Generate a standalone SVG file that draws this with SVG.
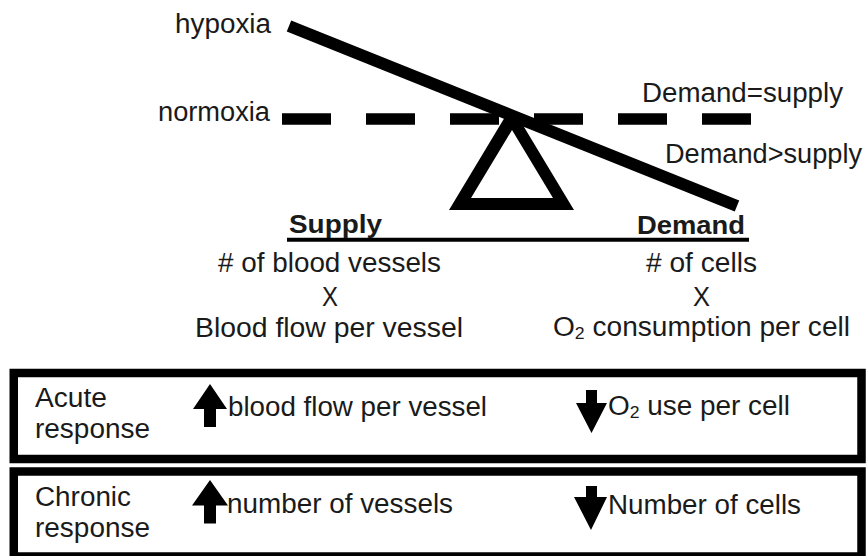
<svg xmlns="http://www.w3.org/2000/svg" width="868" height="556" viewBox="0 0 868 556">
<style>
text{font-family:"Liberation Sans",Arial,sans-serif;font-size:27px;fill:#1a1a1a;}
.b{font-weight:bold;font-size:26px;}
.sub{font-size:17px;}
.box{fill:#fff;stroke:#000;stroke-width:8.5;}
.ink{fill:#000;}
</style>
<rect width="868" height="556" fill="#fff"/>
<g id="balance">
  <line id="normoxia-line" x1="282" y1="119" x2="752" y2="119" stroke="#000" stroke-width="11.5" stroke-dasharray="49 35"/>
  <path id="fulcrum" class="ink" fill-rule="evenodd" d="M449,210 L574,210 L515,112 L508,112 Z M471,198 L553,198 L512,130 Z"/>
  <line id="beam" x1="289" y1="26" x2="737" y2="206" stroke="#000" stroke-width="12"/>
</g>
<g id="level-labels">
  <text x="175" y="33" textLength="96" lengthAdjust="spacingAndGlyphs">hypoxia</text>
  <text x="158" y="121" textLength="112" lengthAdjust="spacingAndGlyphs">normoxia</text>
  <text x="642" y="102" textLength="201" lengthAdjust="spacingAndGlyphs">Demand=supply</text>
  <text x="665" y="163" textLength="197" lengthAdjust="spacingAndGlyphs">Demand&gt;supply</text>
</g>
<g id="base-line">
  <line x1="287" y1="239.7" x2="749" y2="239.7" stroke="#000" stroke-width="4"/>
</g>
<g id="supply">
  <text class="b" x="289" y="233" textLength="93" lengthAdjust="spacingAndGlyphs">Supply</text>
  <text x="218" y="272" textLength="223" lengthAdjust="spacingAndGlyphs"># of blood vessels</text>
  <text x="322" y="306" textLength="16" lengthAdjust="spacingAndGlyphs">X</text>
  <text x="195" y="337" textLength="268" lengthAdjust="spacingAndGlyphs">Blood flow per vessel</text>
</g>
<g id="demand">
  <text class="b" x="637" y="234" textLength="108" lengthAdjust="spacingAndGlyphs">Demand</text>
  <text x="646" y="272" textLength="111" lengthAdjust="spacingAndGlyphs"># of cells</text>
  <text x="693" y="306" textLength="17" lengthAdjust="spacingAndGlyphs">X</text>
  <text x="553" y="336" textLength="297" lengthAdjust="spacingAndGlyphs">O<tspan class="sub" dy="3">2</tspan><tspan dy="-3"> consumption per cell</tspan></text>
</g>
<g id="acute">
  <rect class="box" x="13.75" y="373" width="847.75" height="86"/>
  <text x="35" y="407" textLength="72" lengthAdjust="spacingAndGlyphs">Acute</text>
  <text x="35" y="438" textLength="115" lengthAdjust="spacingAndGlyphs">response</text>
  <path class="ink" d="M210,384 L227,409 L216,409 L216,427 L204,427 L204,409 L193,409 Z"/>
  <text x="228" y="416" textLength="259" lengthAdjust="spacingAndGlyphs">blood flow per vessel</text>
  <path class="ink" d="M586,390 L597,390 L597,403 L607,403 L591.5,433 L576,403 L586,403 Z"/>
  <text x="608" y="415" textLength="182" lengthAdjust="spacingAndGlyphs">O<tspan class="sub" dy="3">2</tspan><tspan dy="-3"> use per cell</tspan></text>
</g>
<g id="chronic">
  <rect class="box" x="13.75" y="471.5" width="847.75" height="85"/>
  <text x="35" y="506" textLength="96" lengthAdjust="spacingAndGlyphs">Chronic</text>
  <text x="35" y="537" textLength="115" lengthAdjust="spacingAndGlyphs">response</text>
  <path class="ink" d="M210,480 L228,505.5 L216,505.5 L216,523.5 L204,523.5 L204,505.5 L192,505.5 Z"/>
  <text x="227" y="513" textLength="226" lengthAdjust="spacingAndGlyphs">number of vessels</text>
  <path class="ink" d="M586,486 L597,486 L597,497 L607,497 L591,530 L574,497 L586,497 Z"/>
  <text x="608" y="514" textLength="193" lengthAdjust="spacingAndGlyphs">Number of cells</text>
</g>
</svg>
